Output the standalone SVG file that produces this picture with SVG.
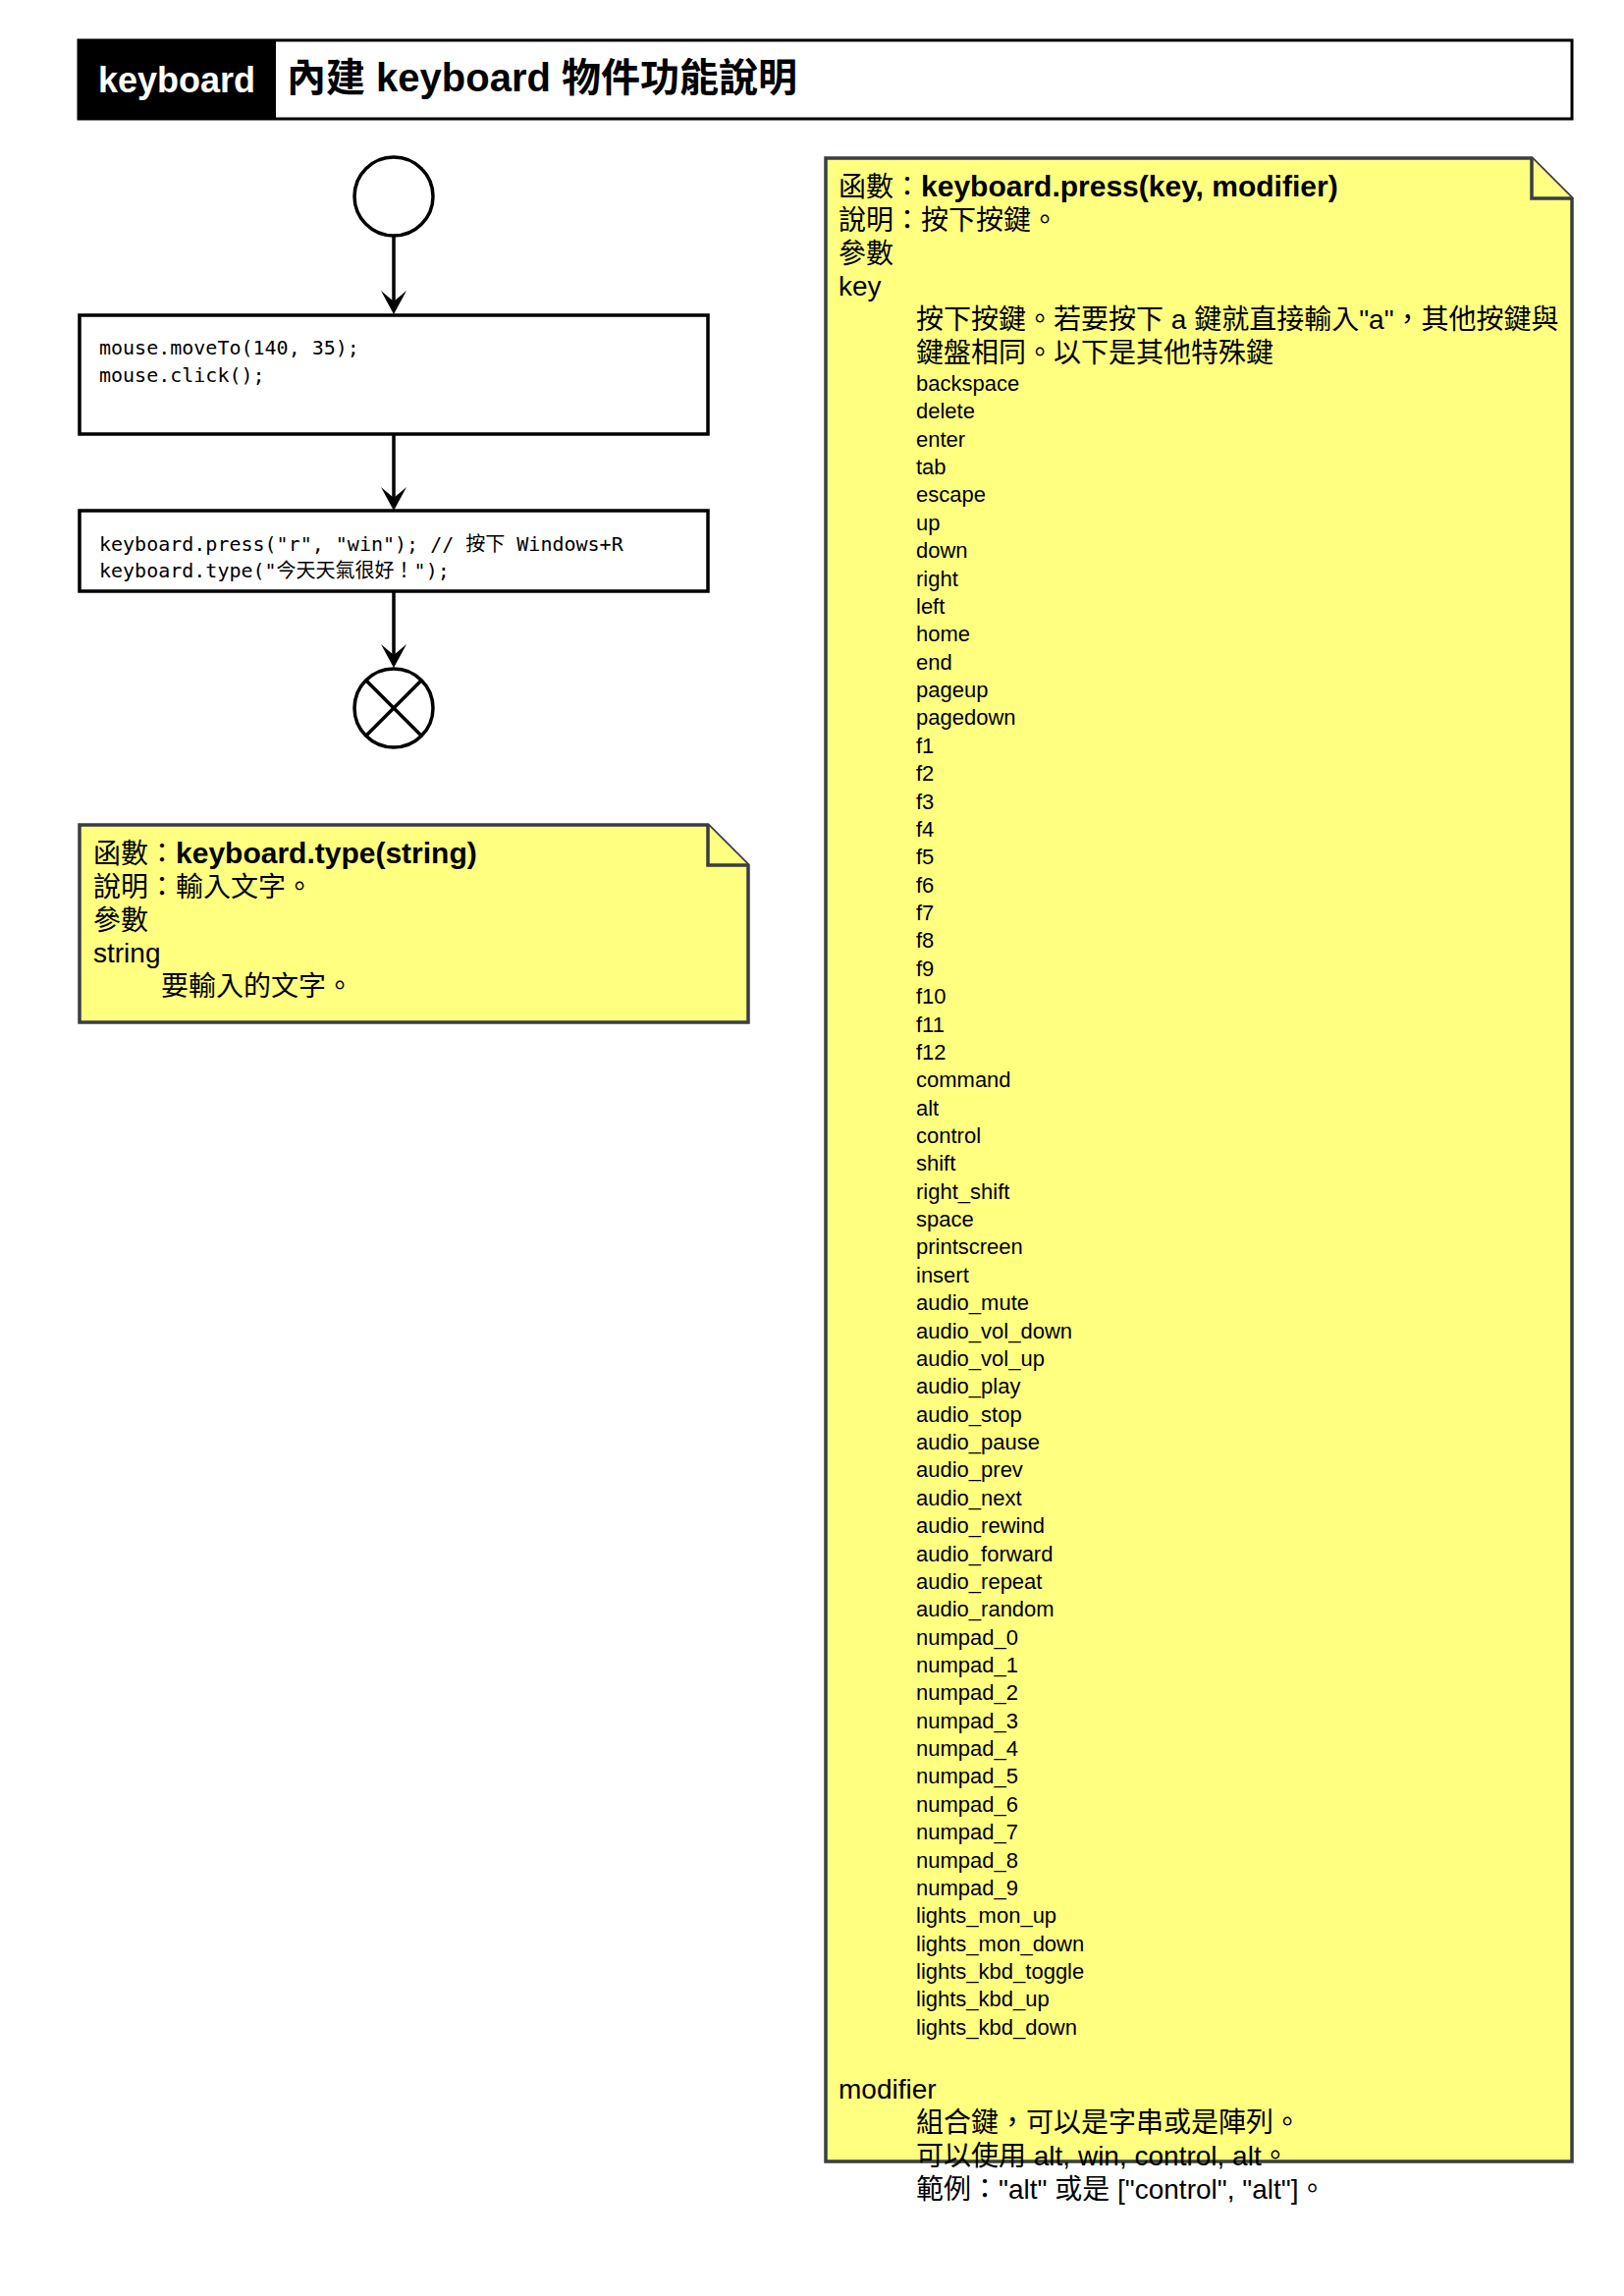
<svg xmlns="http://www.w3.org/2000/svg" width="1654" height="2338" viewBox="0 0 1654 2338">
<style>
.sans{font-family:"Liberation Sans","Noto Sans CJK TC",sans-serif;fill:#000}
.mono{font-family:"DejaVu Sans Mono","Noto Sans CJK TC",monospace;font-size:20px;fill:#000}
.big{font-size:28px}
.small{font-size:22px}
.b{font-weight:bold;font-size:30px}
.node{fill:#fff;stroke:#000;stroke-width:3.5}
.note{fill:#FFFF80;stroke:#3A3D41;stroke-width:3.5;stroke-linejoin:miter}
.edge{stroke:#000;stroke-width:3.5;fill:none}
.head{fill:#000;stroke:none}
</style>
<rect width="1654" height="2338" fill="#fff"/>
<g id="title">
<rect x="80" y="41" width="1521" height="80" fill="#fff" stroke="#000" stroke-width="3"/>
<rect x="80" y="41" width="201" height="80" fill="#000"/>
<text x="100" y="94" font-family="Liberation Sans,sans-serif" font-weight="bold" font-size="36" fill="#fff">keyboard</text>
<text x="292" y="93" font-family="Liberation Sans,Noto Sans CJK TC,sans-serif" font-weight="bold" font-size="40" fill="#000">內建 keyboard 物件功能說明</text>
</g>
<g id="connectors">
<line x1="401" y1="240" x2="401" y2="308" class="edge"/>
<polygon points="401,320 388,296 401,307 414,296" class="head"/>
<line x1="401" y1="442" x2="401" y2="508" class="edge"/>
<polygon points="401,520 388,496 401,507 414,496" class="head"/>
<line x1="401" y1="602" x2="401" y2="668" class="edge"/>
<polygon points="401,680 388,656 401,667 414,656" class="head"/>
</g>
<g id="start">
<circle cx="401" cy="200" r="40" class="node"/>
</g>
<g id="step1">
<rect x="81" y="321" width="640" height="121" class="node"/>
<text class="mono"><tspan x="101" y="361">mouse.moveTo(140, 35);</tspan><tspan x="101" y="389">mouse.click();</tspan></text>
</g>
<g id="step2">
<rect x="81" y="520" width="640" height="82" class="node"/>
<text class="mono"><tspan x="101" y="561">keyboard.press("r", "win"); // 按下 Windows+R</tspan><tspan x="101" y="588">keyboard.type("今天天氣很好！");</tspan></text>
</g>
<g id="end">
<circle cx="401" cy="721" r="40" class="node"/>
<line x1="373" y1="693" x2="429" y2="749" class="edge"/>
<line x1="429" y1="693" x2="373" y2="749" class="edge"/>
</g>
<g id="note-type">
<path d="M81,840 H721 L762,881 V1041 H81 Z" class="note"/>
<path d="M721,840 V881 H762" class="note"/>
<text class="sans big"><tspan x="95" y="879">函數：<tspan class="b">keyboard.type(string)</tspan></tspan><tspan x="95" y="913">說明：輸入文字。</tspan><tspan x="95" y="947">參數</tspan><tspan x="95" y="980">string</tspan><tspan x="164" y="1014">要輸入的文字。</tspan></text>
</g>
<g id="note-press">
<path d="M841,161 H1560 L1601,202 V2201 H841 Z" class="note"/>
<path d="M1560,161 V202 H1601" class="note"/>
<text class="sans big"><tspan x="854" y="200">函數：<tspan class="b">keyboard.press(key, modifier)</tspan></tspan><tspan x="854" y="234">說明：按下按鍵。</tspan><tspan x="854" y="268">參數</tspan><tspan x="854" y="301">key</tspan><tspan x="933" y="335">按下按鍵。若要按下 a 鍵就直接輸入"a"，其他按鍵與</tspan><tspan x="933" y="369">鍵盤相同。以下是其他特殊鍵</tspan></text>
<text class="sans small"><tspan x="933" y="398">backspace</tspan><tspan x="933" dy="28.37">delete</tspan><tspan x="933" dy="28.37">enter</tspan><tspan x="933" dy="28.37">tab</tspan><tspan x="933" dy="28.37">escape</tspan><tspan x="933" dy="28.37">up</tspan><tspan x="933" dy="28.37">down</tspan><tspan x="933" dy="28.37">right</tspan><tspan x="933" dy="28.37">left</tspan><tspan x="933" dy="28.37">home</tspan><tspan x="933" dy="28.37">end</tspan><tspan x="933" dy="28.37">pageup</tspan><tspan x="933" dy="28.37">pagedown</tspan><tspan x="933" dy="28.37">f1</tspan><tspan x="933" dy="28.37">f2</tspan><tspan x="933" dy="28.37">f3</tspan><tspan x="933" dy="28.37">f4</tspan><tspan x="933" dy="28.37">f5</tspan><tspan x="933" dy="28.37">f6</tspan><tspan x="933" dy="28.37">f7</tspan><tspan x="933" dy="28.37">f8</tspan><tspan x="933" dy="28.37">f9</tspan><tspan x="933" dy="28.37">f10</tspan><tspan x="933" dy="28.37">f11</tspan><tspan x="933" dy="28.37">f12</tspan><tspan x="933" dy="28.37">command</tspan><tspan x="933" dy="28.37">alt</tspan><tspan x="933" dy="28.37">control</tspan><tspan x="933" dy="28.37">shift</tspan><tspan x="933" dy="28.37">right_shift</tspan><tspan x="933" dy="28.37">space</tspan><tspan x="933" dy="28.37">printscreen</tspan><tspan x="933" dy="28.37">insert</tspan><tspan x="933" dy="28.37">audio_mute</tspan><tspan x="933" dy="28.37">audio_vol_down</tspan><tspan x="933" dy="28.37">audio_vol_up</tspan><tspan x="933" dy="28.37">audio_play</tspan><tspan x="933" dy="28.37">audio_stop</tspan><tspan x="933" dy="28.37">audio_pause</tspan><tspan x="933" dy="28.37">audio_prev</tspan><tspan x="933" dy="28.37">audio_next</tspan><tspan x="933" dy="28.37">audio_rewind</tspan><tspan x="933" dy="28.37">audio_forward</tspan><tspan x="933" dy="28.37">audio_repeat</tspan><tspan x="933" dy="28.37">audio_random</tspan><tspan x="933" dy="28.37">numpad_0</tspan><tspan x="933" dy="28.37">numpad_1</tspan><tspan x="933" dy="28.37">numpad_2</tspan><tspan x="933" dy="28.37">numpad_3</tspan><tspan x="933" dy="28.37">numpad_4</tspan><tspan x="933" dy="28.37">numpad_5</tspan><tspan x="933" dy="28.37">numpad_6</tspan><tspan x="933" dy="28.37">numpad_7</tspan><tspan x="933" dy="28.37">numpad_8</tspan><tspan x="933" dy="28.37">numpad_9</tspan><tspan x="933" dy="28.37">lights_mon_up</tspan><tspan x="933" dy="28.37">lights_mon_down</tspan><tspan x="933" dy="28.37">lights_kbd_toggle</tspan><tspan x="933" dy="28.37">lights_kbd_up</tspan><tspan x="933" dy="28.37">lights_kbd_down</tspan></text>
<text class="sans big"><tspan x="854" y="2137">modifier</tspan><tspan x="933" y="2171">組合鍵，可以是字串或是陣列。</tspan><tspan x="933" y="2205">可以使用 alt, win, control, alt。</tspan><tspan x="933" y="2239">範例："alt" 或是 ["control", "alt"]。</tspan></text>
</g>
</svg>
